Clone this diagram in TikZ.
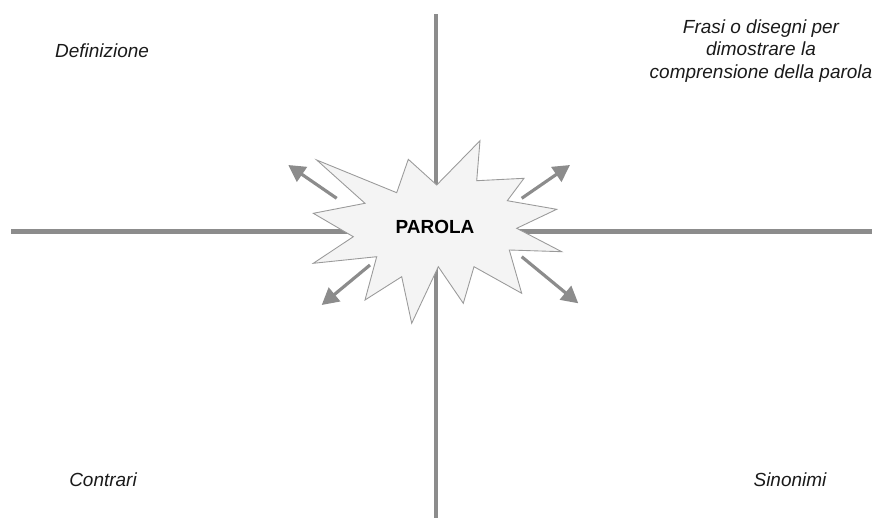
\documentclass[tikz,border=0pt]{standalone}
\usepackage{fontspec}
\setmainfont{Liberation Sans}
\usetikzlibrary{positioning,arrows.meta}
\definecolor{cAxis}{HTML}{8C8C8C}
\definecolor{cBurst}{HTML}{F4F4F4}
\definecolor{cEdge}{HTML}{9A9A9A}
\definecolor{cInk}{HTML}{1A1A1A}

\tikzset{
  axis/.style={draw=cAxis,line width=2.3pt},
  burst/.style={draw=cEdge,fill=cBurst,line width=0.5pt,line join=miter},
  pointer/.style={draw=cAxis,line width=1.8pt,-{Triangle[length=9.5pt,width=10pt]}},
  label/.style={font=\fontsize{10.8}{12.8}\selectfont\itshape,text=cInk,align=center}
}

\begin{document}
\begin{tikzpicture}[x=0.02cm,y=-0.02cm]
    \useasboundingbox (0,0) rectangle (877,518);
    % axes
    \coordinate (top) at (436,14);
    \coordinate (bottom) at (436,518);
    \coordinate (left) at (11,231.5);
    \coordinate (right) at (872,231.5);
    \draw[axis] (top) -- (bottom);
    \draw[axis] (left) -- (right);
    % starburst
    \draw[burst] (316.7,160) -- (396.7,192.7) -- (408.3,159.3) -- (436.7,185)
      -- (480,140.7) -- (476.7,180.7) -- (524,178.3) -- (507.3,200.7)
      -- (556.7,209.3) -- (516.7,228.3) -- (561.7,251.7) -- (509.3,250)
      -- (521.7,293.3) -- (474,266.7) -- (463.3,303.3) -- (438.3,266.7)
      -- (411.7,323.3) -- (401.7,276.7) -- (365,300) -- (376.7,256.7)
      -- (313.3,263.3) -- (353.3,236.7) -- (313.3,213.3) -- (365,203.3) -- cycle;
    \node[font=\fontsize{10.8}{12.6}\selectfont\bfseries,text=black] (word) at (435,227) {PAROLA};
    % arrows out of the burst
    \coordinate (ulS) at (336.7,198.3);
    \coordinate (ulE) at (288.3,165);
    \coordinate (urS) at (521.7,198.3);
    \coordinate (urE) at (570,165);
    \coordinate (llS) at (370,265);
    \coordinate (llE) at (321.7,305);
    \coordinate (lrS) at (521.7,256.7);
    \coordinate (lrE) at (578.3,303.3);
    \draw[pointer] (ulS) -- (ulE);
    \draw[pointer] (urS) -- (urE);
    \draw[pointer] (llS) -- (llE);
    \draw[pointer] (lrS) -- (lrE);
    % quadrant labels
    \node[label] (def) at (102,51) {Definizione};
    \node[label] (frasi) at (761,51) {Frasi o disegni per\\dimostrare la\\comprensione della parola};
    \node[label] (contr) at (103,480) {Contrari};
    \node[label] (sinon) at (790,480) {Sinonimi};
\end{tikzpicture}
\end{document}
